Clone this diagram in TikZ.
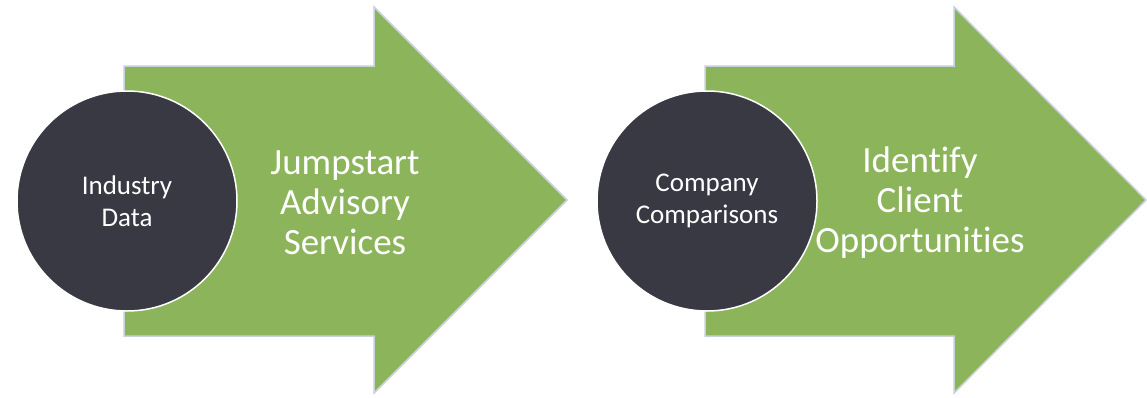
\documentclass[tikz,border=0pt]{standalone}
\usepackage{fontspec}
\setmainfont{Carlito}[Ligatures=NoCommon]
\definecolor{leaf}{HTML}{8CB55B}
\definecolor{ink}{HTML}{393944}
\definecolor{rim}{HTML}{C8D0D8}
\tikzset{
  stage/.style={fill=leaf, draw=rim, line width=1.5pt, line join=miter},
  hub/.style={circle, fill=ink, draw=white, line width=1.5pt, minimum size=220pt,
    inner sep=0pt, text=white, align=center, font=\fontsize{27}{32}\selectfont},
  goal/.style={text=white, align=center, font=\fontsize{37}{40}\selectfont}
}
\begin{document}
\begin{tikzpicture}[x=1pt, y=-1pt]
  \useasboundingbox (0,0) rectangle (1147,397);
  % first stage
  \filldraw[stage] (124,66) -- (374,66) -- (374,7) -- (567,200) -- (374,393)
    -- (374,336) -- (124,336) -- cycle;
  \node[hub] (industry) at (127,201) {Industry\\Data};
  \node[goal] (jumpstart) at (345,203) {Jumpstart\\Advisory\\Services};
  % second stage
  \filldraw[stage] (705,66) -- (954,66) -- (954,7) -- (1146,200) -- (954,393)
    -- (954,336) -- (705,336) -- cycle;
  \node[hub] (company) at (707,201) {Company\\Comparisons};
  \node[goal] (identify) at (920,203) {Identify\\Client\\Opportunities};
\end{tikzpicture}
\end{document}
